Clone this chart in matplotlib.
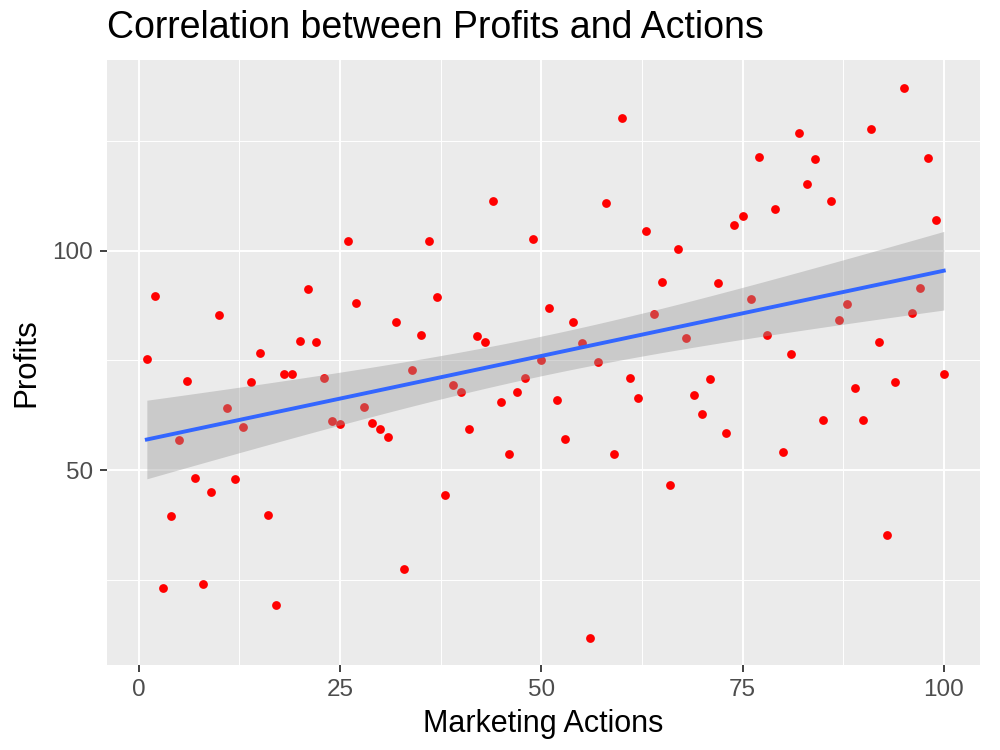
import numpy as np
import matplotlib
matplotlib.use("Agg")
import matplotlib.pyplot as plt

plt.rcParams['font.family'] = ['Liberation Sans', 'DejaVu Sans']

# marketing actions 1..100 and the profit read for each one
actions = list(range(1, 101))
profits = [
    75.4, 89.6, 23.1, 39.5, 56.9, 70.3, 48.3, 24.1, 45.1, 85.4,
    64.2, 48.0, 59.9, 70.1, 76.7, 39.7, 19.4, 72.0, 72.0, 79.4,
    91.2, 79.3, 71.0, 61.1, 60.6, 102.3, 88.0, 64.4, 60.7, 59.5,
    57.6, 83.7, 27.6, 72.9, 80.7, 102.2, 89.5, 44.3, 69.3, 67.9,
    59.3, 80.5, 79.1, 111.4, 65.6, 53.8, 67.7, 71.0, 102.6, 75.2,
    87.0, 66.1, 57.2, 83.7, 79.0, 11.9, 74.7, 110.8, 53.8, 130.2,
    71.0, 66.4, 104.5, 85.5, 92.8, 46.7, 100.4, 80.0, 67.1, 62.9,
    70.7, 92.6, 58.4, 105.8, 107.8, 88.9, 121.3, 80.8, 109.5, 54.2,
    76.5, 126.7, 115.1, 120.8, 61.5, 111.3, 84.2, 87.8, 68.7, 61.4,
    127.6, 79.2, 35.2, 70.1, 137.0, 85.7, 91.5, 121.0, 107.0, 71.9,
]

x = np.array(actions, dtype=float)
y = np.array(profits)

# linear fit with 95% confidence band (like geom_smooth(method="lm"))
slope, intercept = np.polyfit(x, y, 1)
xs = np.linspace(x.min(), x.max(), 80)
ys = intercept + slope * xs
n = len(x)
resid = y - (intercept + slope * x)
s = np.sqrt(np.sum(resid ** 2) / (n - 2))
sxx = np.sum((x - x.mean()) ** 2)
se = s * np.sqrt(1 / n + (xs - x.mean()) ** 2 / sxx)
t = 1.984
lo = ys - t * se
hi = ys + t * se

fig = plt.figure(figsize=(10, 7.5), dpi=100)
ax = fig.add_axes([0.107, 0.1133, 0.873, 0.8067])
ax.set_facecolor('#EBEBEB')

ax.scatter(x, y, s=40, color='red', zorder=3, linewidths=0)
ax.fill_between(xs, lo, hi, color='#999999', alpha=0.4, linewidth=0, zorder=4)
ax.plot(xs, ys, color='#3366FF', lw=2.8, zorder=5)

ax.set_xlim(-3.95, 104.5)
ax.set_ylim(5.65, 143.4)

ax.set_xticks([0, 25, 50, 75, 100])
ax.set_xticks([12.5, 37.5, 62.5, 87.5], minor=True)
ax.set_yticks([50, 100])
ax.set_yticks([25, 75, 125], minor=True)
ax.grid(which='major', color='white', lw=1.4)
ax.grid(which='minor', color='white', lw=0.7)
ax.set_axisbelow(True)
for sp in ax.spines.values():
    sp.set_visible(False)
ax.tick_params(which='major', length=5, width=1.3, color='#333333',
               labelsize=17.5, labelcolor='#4D4D4D', pad=5)
ax.tick_params(which='minor', length=0)

ax.set_xlabel('Marketing Actions', fontsize=22, color='black', labelpad=6)
ax.set_ylabel('Profits', fontsize=22.5, color='black', labelpad=8)
ax.set_title('Correlation between Profits and Actions', fontsize=27,
             loc='left', color='black', pad=16)

fig.savefig('out.png', dpi=100)
